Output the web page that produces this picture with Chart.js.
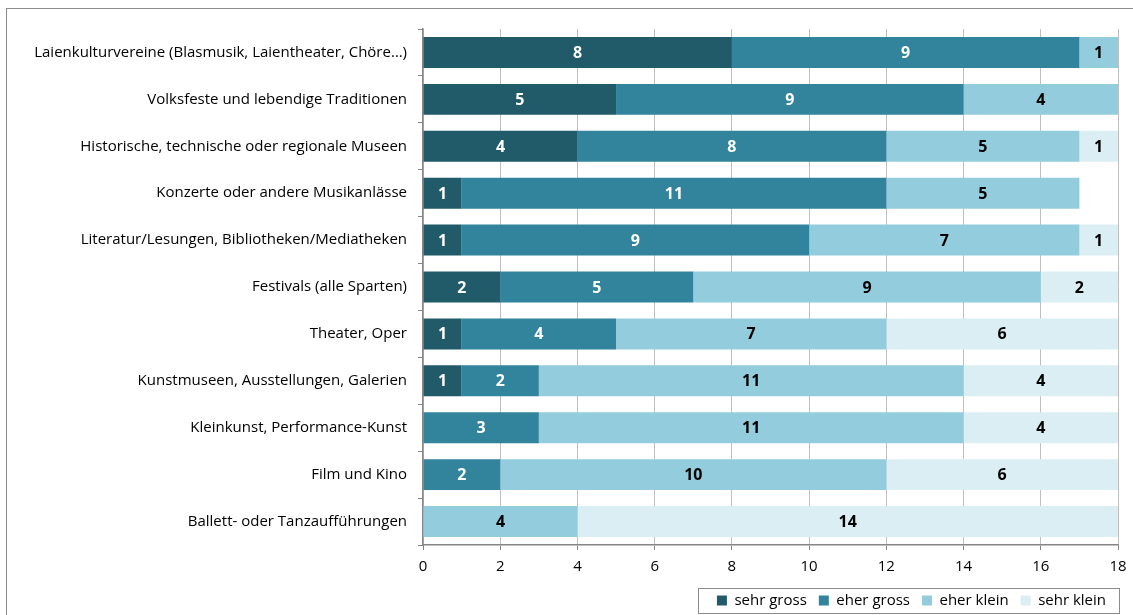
<!DOCTYPE html>
<html lang="de">
<head>
<meta charset="utf-8">
<script src="https://cdn.jsdelivr.net/npm/chart.js@4/dist/chart.umd.min.js"></script>
<style>
  html, body { margin: 0; padding: 0; background: #fff; overflow: hidden; }
  #wrap { position: relative; width: 1133px; height: 615px; }
  #frame { position: absolute; left: 6px; top: 8px; width: 1200px; height: 700px;
           border-left: 1px solid #8c8c8c; border-top: 1px solid #8c8c8c; pointer-events: none; }
  canvas { position: absolute; left: 0; top: 0; }
</style>
</head>
<body>
<div id="wrap">
  <div id="frame"></div>
  <canvas id="c" width="1133" height="615"></canvas>
</div>
<script>
const categories = [
  'Laienkulturvereine (Blasmusik, Laientheater, Chöre…)',
  'Volksfeste und lebendige Traditionen',
  'Historische, technische oder regionale Museen',
  'Konzerte oder andere Musikanlässe',
  'Literatur/Lesungen, Bibliotheken/Mediatheken',
  'Festivals (alle Sparten)',
  'Theater, Oper',
  'Kunstmuseen, Ausstellungen, Galerien',
  'Kleinkunst, Performance-Kunst',
  'Film und Kino',
  'Ballett- oder Tanzaufführungen'
];
const seriesNames = ['sehr gross', 'eher gross', 'eher klein', 'sehr klein'];
const sehrGross  = [8, 5, 4, 1, 1, 2, 1, 1, 0, 0, 0];
const eherGross  = [9, 9, 8, 11, 9, 5, 4, 2, 3, 2, 0];
const eherKlein  = [1, 4, 5, 5, 7, 9, 7, 11, 11, 10, 4];
const sehrKlein  = [0, 0, 1, 0, 1, 2, 6, 4, 4, 6, 14];
const xTicks = [0, 2, 4, 6, 8, 10, 12, 14, 16, 18];

const colors = ['#215A69', '#31849B', '#93CDDD', '#DBEEF3'];
const labelColors = ['#ffffff', '#ffffff', '#000000', '#000000'];
const FONT = '"Open Sans", "Noto Sans", sans-serif';

// value written in the middle of each segment
const valueLabels = {
  id: 'valueLabels',
  afterDatasetsDraw(chart) {
    const ctx = chart.ctx;
    ctx.save();
    ctx.font = 'bold 16px ' + FONT;
    ctx.textAlign = 'center';
    ctx.textBaseline = 'middle';
    chart.data.datasets.forEach((ds, di) => {
      const meta = chart.getDatasetMeta(di);
      meta.data.forEach((el, i) => {
        const v = ds.data[i];
        if (!v) return;
        const p = el.getCenterPoint();
        ctx.fillStyle = labelColors[di];
        ctx.fillText(String(v), p.x, p.y + 1);
      });
    });
    ctx.restore();
  }
};

// thin frame around the legend entries
const legendFrame = {
  id: 'legendFrame',
  afterDraw(chart) {
    const boxes = chart.legend && chart.legend.legendHitBoxes;
    if (!boxes || !boxes.length) return;
    let l = Infinity, r = -Infinity, t = Infinity, b = -Infinity;
    boxes.forEach(h => {
      l = Math.min(l, h.left); r = Math.max(r, h.left + h.width);
      t = Math.min(t, h.top); b = Math.max(b, h.top + h.height);
    });
    const cy = (t + b) / 2;
    const ctx = chart.ctx;
    ctx.save();
    ctx.strokeStyle = '#8c8c8c';
    ctx.lineWidth = 1;
    const x0 = Math.round(l - 19), x1 = Math.round(r + 13);
    const y0 = Math.round(cy - 12.5), y1 = Math.round(cy + 12);
    ctx.strokeRect(x0 + 0.5, y0 + 0.5, x1 - x0, y1 - y0);
    ctx.restore();
  }
};

new Chart(document.getElementById('c'), {
  type: 'bar',
  data: {
    labels: categories,
    datasets: [sehrGross, eherGross, eherKlein, sehrKlein].map((d, i) => ({
      label: seriesNames[i],
      data: d,
      backgroundColor: colors[i],
      borderWidth: 0,
      categoryPercentage: 1,
      barPercentage: 0.66
    }))
  },
  options: {
    indexAxis: 'y',
    responsive: false,
    animation: false,
    layout: { padding: { top: 29, right: 15, left: 0, bottom: -3 } },
    scales: {
      x: {
        stacked: true,
        min: 0, max: 18,
        afterBuildTicks(scale) { scale.ticks = xTicks.map(v => ({ value: v })); },
        afterFit(scale) { scale.height = 36; scale.paddingRight = 0; },
        grid: { color: '#BFBFBF', tickColor: '#868686', tickLength: 5, lineWidth: 1 },
        border: { color: '#868686', width: 1.5 },
        ticks: { color: '#000', font: { family: FONT, size: 15 }, padding: 8, maxRotation: 0 }
      },
      y: {
        stacked: true,
        afterFit(scale) { scale.width = 423; },
        grid: { offset: true, drawOnChartArea: false, tickColor: '#868686', tickLength: 5 },
        border: { color: '#868686', width: 1.5 },
        ticks: { color: '#000', font: { family: FONT, size: 15 }, padding: 11 }
      }
    },
    plugins: {
      tooltip: { enabled: false },
      legend: {
        position: 'bottom',
        align: 'end',
        labels: {
          color: '#000',
          font: { family: FONT, size: 15 },
          boxWidth: 10, boxHeight: 10,
          padding: 12
        }
      }
    }
  },
  plugins: [valueLabels, legendFrame]
});
</script>
</body>
</html>
